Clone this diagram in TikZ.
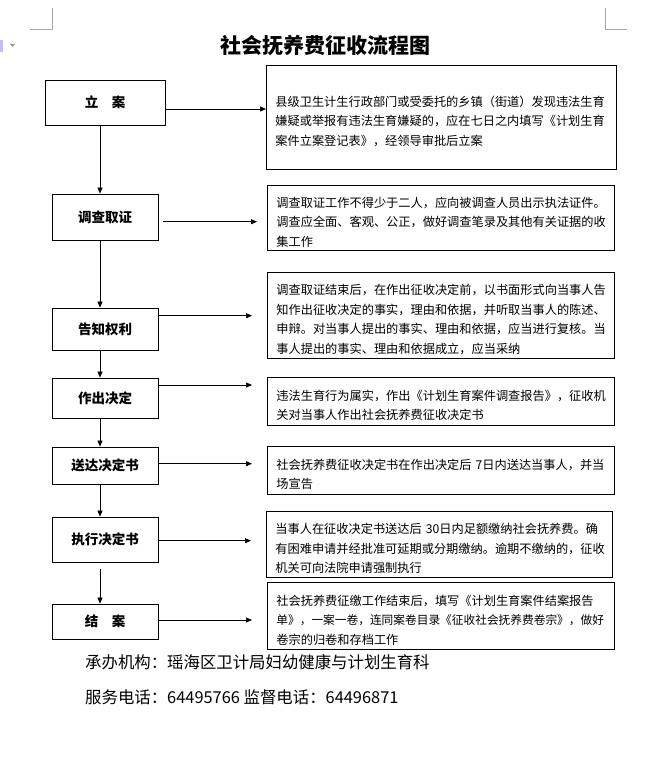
\documentclass[tikz,border=0pt]{standalone}
\usepackage{fontspec}
\newfontfamily\cjk{Noto Sans CJK SC}
\usetikzlibrary{arrows.meta}
\begin{document}
\begin{tikzpicture}[x=1pt,y=-1pt,
  stagebox/.style={draw, line width=0.8pt, inner sep=0pt, font=\cjk\bfseries\fontsize{13.5}{16}\selectfont},
  notebox/.style={draw, line width=0.8pt, anchor=north west, inner xsep=9pt, inner ysep=0pt, align=left,
    font=\cjk\fontsize{12.2}{19.5}\selectfont, execute at begin node={\rule{0pt}{18.5pt}}},
  flow/.style={line width=0.7pt, -{Triangle[length=6pt,width=5pt]}},
  footer/.style={anchor=west, inner sep=0pt, font=\cjk\fontsize{16.4}{20}\selectfont},
  cropmark/.style={draw=black!35, line width=0.6pt}]
\useasboundingbox (0,0) rectangle (657,781);

% page marks and toolbar remnant
\draw[cropmark] (30,29.5) -- (52,29.5) -- (52,8);
\draw[cropmark] (605,8) -- (605,29.5) -- (627,29.5);
\fill[blue!25] (0,40) rectangle (3,52);
\fill[black!40] (10,44) -- (15,44) -- (12.5,47) -- cycle;

% title
\node[font=\cjk\bfseries\fontsize{21}{24}\selectfont] (title) at (325,46) {社会抚养费征收流程图};

% stages
\node[stagebox, minimum width=120pt, minimum height=45pt] (s1) at (105,102.5) {立　案};
\node[stagebox, minimum width=106pt, minimum height=46pt] (s2) at (105,217) {调查取证};
\node[stagebox, minimum width=106pt, minimum height=42pt] (s3) at (105,329) {告知权利};
\node[stagebox, minimum width=106pt, minimum height=40pt] (s4) at (105,398) {作出决定};
\node[stagebox, minimum width=106pt, minimum height=37pt] (s5) at (105,465.5) {送达决定书};
\node[stagebox, minimum width=106pt, minimum height=45pt] (s6) at (105,539.5) {执行决定书};
\node[stagebox, minimum width=106pt, minimum height=35pt] (s7) at (105,621.5) {结　案};

% notes
\node[notebox, text width=332pt, minimum height=104pt] (n1) at (266,65) {县级卫生计生行政部门或受委托的乡镇（街道）发现违法生育\\嫌疑或举报有违法生育嫌疑的，应在七日之内填写《计划生育\\案件立案登记表》，经领导审批后立案};
\node[notebox, text width=329pt, minimum height=65pt] (n2) at (267,185) {调查取证工作不得少于二人，应向被调查人员出示执法证件。\\调查应全面、客观、公正，做好调查笔录及其他有关证据的收\\集工作};
\node[notebox, text width=329pt, minimum height=86pt] (n3) at (267,272) {调查取证结束后，在作出征收决定前，以书面形式向当事人告\\知作出征收决定的事实，理由和依据，并听取当事人的陈述、\\申辩。对当事人提出的事实、理由和依据，应当进行复核。当\\事人提出的事实、理由和依据成立，应当采纳};
\node[notebox, text width=329pt, minimum height=48pt] (n4) at (267,377) {违法生育行为属实，作出《计划生育案件调查报告》，征收机\\关对当事人作出社会抚养费征收决定书};
\node[notebox, text width=329pt, minimum height=48pt] (n5) at (267,446) {社会抚养费征收决定书在作出决定后 7日内送达当事人，并当\\场宣告};
\node[notebox, text width=328pt, minimum height=66pt] (n6) at (266,511) {当事人在征收决定书送达后 30日内足额缴纳社会抚养费。确\\有困难申请并经批准可延期或分期缴纳。逾期不缴纳的，征收\\机关可向法院申请强制执行};
\node[notebox, text width=329pt, minimum height=67pt] (n7) at (267,582) {社会抚养费征缴工作结束后，填写《计划生育案件结案报告\\{\fontsize{11.7}{19.5}\selectfont 单》，一案一卷，连同案卷目录《征收社会抚养费卷宗》，做好}\\卷宗的归卷和存档工作};

% vertical flow
\coordinate (xl) at (100,0);
\draw[flow] (s1.south -| xl) -- (s2.north -| xl);
\draw[flow] (s2.south -| xl) -- (s3.north -| xl);
\draw[flow] (s3.south -| xl) -- (s4.north -| xl);
\draw[flow] (s4.south -| xl) -- (s5.north -| xl);
\draw[flow] (s5.south -| xl) -- (s6.north -| xl);
\draw[flow, shorten <=7pt] (s6.south -| xl) -- (s7.north -| xl);

% horizontal flow
\draw[flow] (s1.east |- 0,109) -- (n1.west |- 0,109);
\draw[flow, shorten <=5pt, shorten >=10pt] (s2.east |- 0,221.7) -- (n2.west |- 0,221.7);
\draw[flow, shorten >=15pt] (s3.east |- 0,315.7) -- (n3.west |- 0,315.7);
\draw[flow, shorten >=15pt] (s4.east |- 0,385) -- (n4.west |- 0,385);
\draw[flow, shorten >=15pt] (s5.east |- 0,463.7) -- (n5.west |- 0,463.7);
\draw[flow, shorten >=15pt] (s6.east |- 0,540.7) -- (n6.west |- 0,540.7);
\draw[flow, shorten >=15pt] (s7.east |- 0,620) -- (n7.west |- 0,620);

% footer
\node[footer] (f1) at (85,662) {承办机构：瑶海区卫计局妇幼健康与计划生育科};
\node[footer] (f2) at (85,697) {服务电话：64495766 监督电话：64496871};
\end{tikzpicture}
\end{document}
